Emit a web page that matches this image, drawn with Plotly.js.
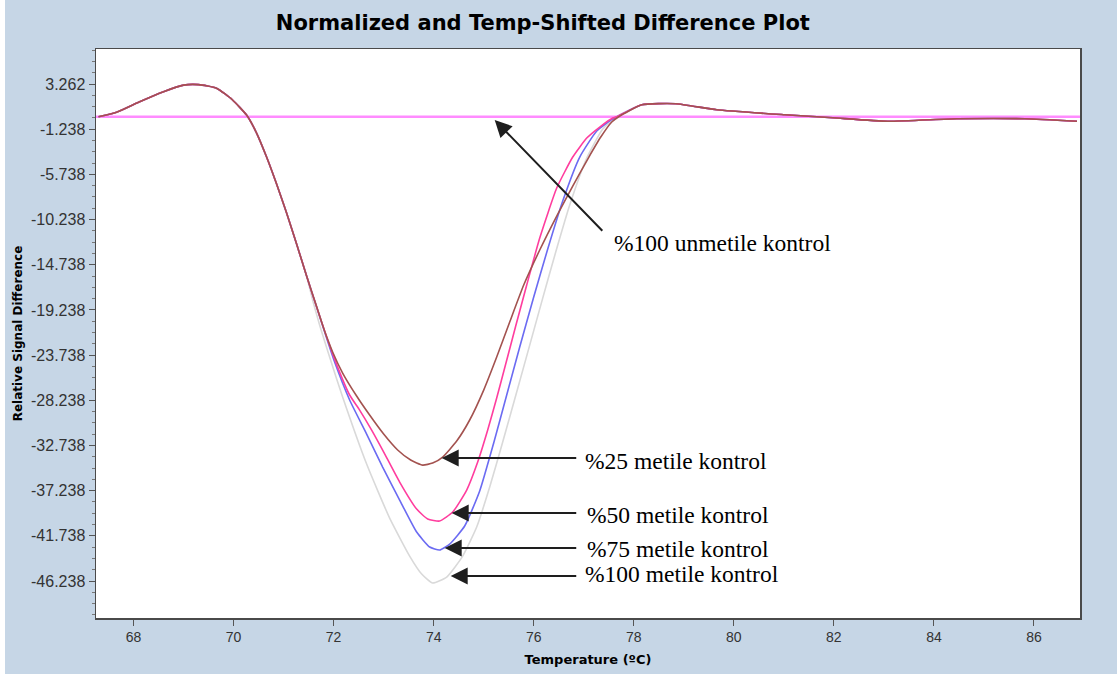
<!DOCTYPE html>
<html>
<head>
<meta charset="utf-8">
<script src="https://cdn.plot.ly/plotly-3.0.1.min.js"></script>
<style>html,body{margin:0;padding:0;background:#c6d6e6;}</style>
</head>
<body>
<div id="chart" style="width:1117px;height:674px;"></div>
<script>
// Shared part of all melt curves (start, hump, common descent)
const riseT = [67.3, 67.66, 68.1, 68.6, 69.0, 69.3, 69.66, 69.98, 70.26, 70.46, 70.66, 70.86, 71.06, 71.26, 71.46];
const riseV = [0, 0.45, 1.45, 2.5, 3.15, 3.2, 2.85, 1.67, 0.17, -1.62, -4.01, -6.70, -9.59, -12.67, -15.86];
// Shared tail after the curves rejoin
const tailT = [78.16, 78.84, 79.66, 81.02, 81.98, 83.08, 84.46, 85.82, 86.86];
const tailV = [1.2, 1.3, 0.7, 0.2, -0.1, -0.45, -0.2, -0.2, -0.45];

// %100 metile kontrol (light grey)
const m100T = [71.58, 71.72, 71.92, 72.18, 72.66, 73.12, 73.52, 73.76, 73.98, 74.26, 74.58, 74.86, 75.12, 75.38, 75.66, 75.92, 76.18, 76.44, 76.72, 77.06, 77.38, 77.66];
const m100V = [-18.25, -20.74, -23.93, -27.91, -34.59, -39.97, -43.75, -45.54, -46.44, -45.84, -43.75, -40.86, -36.88, -32.40, -27.42, -22.74, -18.06, -13.47, -8.79, -4.11, -1.22, 0];
// %75 metile kontrol (blue)
const m75T = [71.68, 71.84, 72.02, 72.32, 72.66, 72.98, 73.32, 73.66, 73.92, 74.12, 74.32, 74.62, 74.92, 75.2, 75.46, 75.72, 76.0, 76.28, 76.58, 76.92, 77.26, 77.58, 77.66];
const m75V = [-19.25, -21.74, -24.43, -28.21, -31.6, -34.89, -38.17, -41.36, -42.85, -43.15, -42.56, -40.76, -37.27, -32.49, -27.71, -22.93, -17.95, -13.17, -8.39, -4.01, -1.42, -0.2, 0];
// %50 metile kontrol (pink)
const m50T = [71.68, 71.84, 72.08, 72.32, 72.52, 72.76, 72.98, 73.32, 73.66, 73.88, 74.12, 74.38, 74.66, 74.88, 75.08, 75.26, 75.44, 75.64, 75.86, 76.12, 76.46, 76.78, 77.06, 77.32, 77.58, 77.66];
const m50V = [-19.25, -21.64, -24.93, -27.71, -29.21, -31.2, -33.19, -36.38, -39.07, -40.06, -40.26, -39.37, -37.18, -34.39, -31.2, -28.01, -24.63, -20.84, -16.76, -12.08, -7.10, -4.01, -2.12, -1.02, -0.12, 0];
// %25 metile kontrol (brown)
const m25T = [71.66, 71.82, 71.98, 72.18, 72.46, 72.72, 73.0, 73.28, 73.54, 73.78, 73.98, 74.18, 74.46, 74.72, 75.0, 75.26, 75.52, 75.8, 76.12, 76.46, 76.78, 77.08, 77.34, 77.56, 77.7];
const m25V = [-18.9, -21.34, -23.43, -25.52, -27.81, -29.71, -31.6, -33.19, -34.19, -34.69, -34.49, -33.89, -32.30, -30.20, -27.22, -23.93, -20.44, -16.76, -13.27, -9.89, -6.90, -4.21, -2.02, -0.52, 0];
// %100 unmetile kontrol (flat reference)
const unT = [67.25, 86.92];
const unV = [0, 0];

const yTickVals = [3.262, -1.238, -5.738, -10.238, -14.738, -19.238, -23.738, -28.238, -32.738, -37.238, -41.738, -46.238];
const yTickText = ["3.262", "-1.238", "-5.738", "-10.238", "-14.738", "-19.238", "-23.738", "-28.238", "-32.738", "-37.238", "-41.738", "-46.238"];
const xTickVals = [68, 70, 72, 74, 76, 78, 80, 82, 84, 86];
const xTickText = ["68", "70", "72", "74", "76", "78", "80", "82", "84", "86"];

const labels = ["%100 unmetile kontrol", "%25 metile kontrol", "%50 metile kontrol", "%75 metile kontrol", "%100 metile kontrol"];

function full(midT, midV) {
  return { x: riseT.concat(midT, tailT), y: riseV.concat(midV, tailV) };
}
function curve(midT, midV, color, name) {
  const d = full(midT, midV);
  return { type: 'scatter', mode: 'lines', x: d.x, y: d.y, name: name,
    line: { color: color, width: 1.6, shape: 'spline', smoothing: 0.5 }, hoverinfo: 'skip' };
}

const traces = [
  { type: 'scatter', mode: 'lines', x: unT, y: unV, name: labels[0],
    line: { color: '#ff8cff', width: 2.6 } },
  curve(m100T, m100V, '#d9d9d9', labels[4]),
  curve(m75T, m75V, '#6b6bf2', labels[3]),
  curve(m50T, m50V, '#ff3d9e', labels[2]),
  curve(m25T, m25V, '#a3524f', labels[1])
];

const arrowColor = '#1e1e1e';
function arrow(x, y, ax, ay) {
  return { x: x, y: y, xref: 'x', yref: 'y', ax: ax, ay: ay, axref: 'x', ayref: 'y',
    text: '', showarrow: true, arrowhead: 2, arrowsize: 1.7, arrowwidth: 2, arrowcolor: arrowColor };
}
function label(x, y, t) {
  return { x: x, y: y, xref: 'x', yref: 'y', text: t, showarrow: false, xanchor: 'left', yanchor: 'middle',
    font: { family: 'Liberation Serif, Times New Roman, serif', size: 23.5, color: '#000' } };
}

const annotations = [
  arrow(75.22, -0.32, 77.4, -11.5),
  arrow(74.16, -33.99, 76.88, -33.99),
  arrow(74.36, -39.47, 76.88, -39.47),
  arrow(74.22, -42.95, 76.88, -42.95),
  arrow(74.34, -45.74, 76.88, -45.74),
  label(77.56, -12.57, labels[0]),
  label(76.98, -34.29, labels[1]),
  label(77.02, -39.67, labels[2]),
  label(77.02, -43.05, labels[3]),
  label(76.98, -45.54, labels[4])
];

const layout = {
  width: 1117, height: 674,
  margin: { l: 96, r: 37, t: 49, b: 56 },
  paper_bgcolor: '#c6d6e6',
  plot_bgcolor: '#ffffff',
  showlegend: false,
  title: { text: 'Normalized and Temp-Shifted Difference Plot', x: 0.486, xanchor: 'center', y: 0.966, yanchor: 'middle',
    font: { family: 'DejaVu Sans, Verdana, sans-serif', size: 21, color: '#000', weight: 'bold' } },
  xaxis: {
    range: [67.25, 86.92], tickmode: 'array', tickvals: xTickVals, ticktext: xTickText,
    ticks: 'outside', ticklen: 6, tickcolor: '#555', showgrid: false, zeroline: false,
    showline: true, linecolor: '#4a4a4a', linewidth: 1.5, mirror: true,
    tickfont: { family: 'Liberation Sans, Arial, sans-serif', size: 14, color: '#333' },
    title: { text: 'Temperature (ºC)', standoff: 10,
      font: { family: 'DejaVu Sans, Verdana, sans-serif', size: 13, color: '#000', weight: 'bold' } }
  },
  yaxis: {
    range: [-49.92, 6.75], tickmode: 'array', tickvals: yTickVals, ticktext: yTickText,
    ticks: 'outside', ticklen: 6, tickcolor: '#555', showgrid: false, zeroline: false,
    showline: true, linecolor: '#4a4a4a', linewidth: 1.5, mirror: true,
    minor: { tickmode: 'linear', tick0: 3.262, dtick: 1.125, ticks: 'outside', ticklen: 3, tickcolor: '#777' },
    tickfont: { family: 'Liberation Sans, Arial, sans-serif', size: 16, color: '#333' },
    title: { text: 'Relative Signal Difference', standoff: 6,
      font: { family: 'DejaVu Sans, Verdana, sans-serif', size: 12, color: '#000', weight: 'bold' } }
  },
  shapes: [
    { type: 'rect', xref: 'paper', yref: 'paper', x0: -96/984, x1: -91/984, y0: -56/569, y1: 1 + 49/569,
      fillcolor: '#ffffff', line: { width: 0 }, layer: 'below' }
  ],
  annotations: annotations
};

Plotly.newPlot('chart', traces, layout, { displayModeBar: false, staticPlot: true });
</script>
</body>
</html>
